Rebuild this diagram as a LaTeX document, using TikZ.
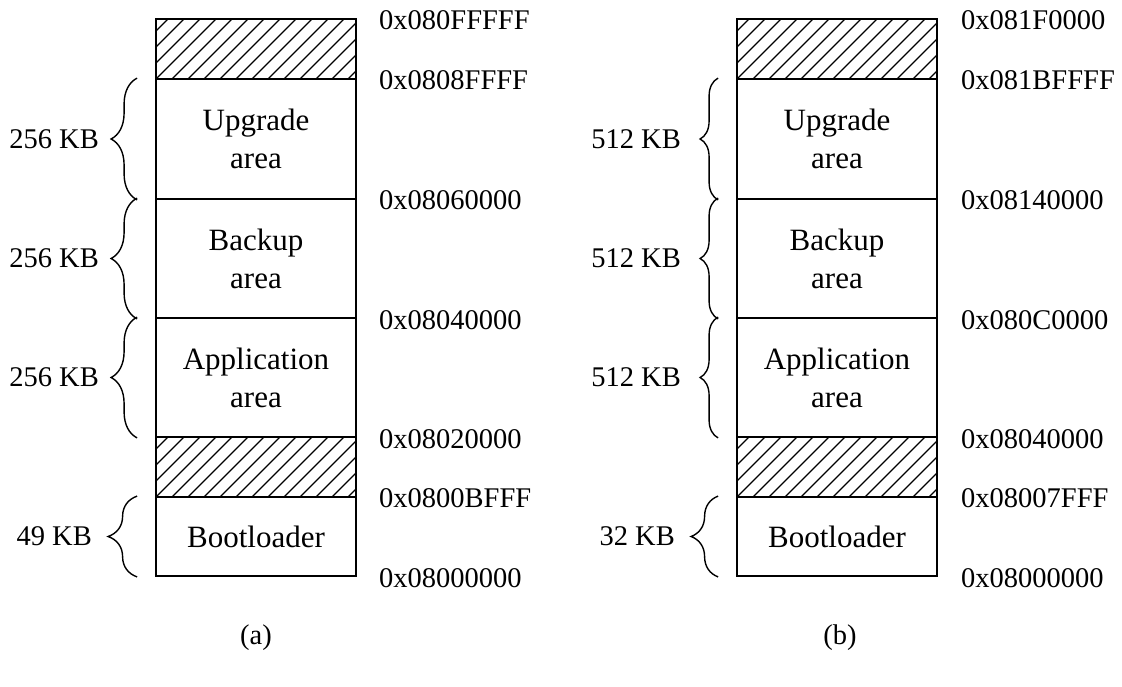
\documentclass[tikz,border=0pt]{standalone}
\usepackage{fontspec}
\setmainfont{Liberation Serif}
\usetikzlibrary{calc,decorations.pathreplacing}

\newcommand{\areafont}{\fontsize{31}{38}\selectfont}
\newcommand{\memfont}{\fontsize{28.5}{34}\selectfont}

\tikzset{
  area/.style={draw, line width=1.8pt, minimum width=200pt, inner sep=0pt,
               align=center, font=\areafont},
  hatched/.style={area, path picture={
      \foreach \k in {-80,-64,...,240}{
        \draw[line width=1.3pt]
          ($(path picture bounding box.south west)+(\k pt,0)$) -- ++(80pt,80pt);
      }}},
  addr/.style={anchor=west, inner sep=0pt, font=\memfont},
  size/.style={anchor=east, inner sep=0pt, font=\memfont},
  membrace/.style={decorate, decoration={brace, amplitude=#1}, line width=1.4pt},
  membrace/.default=26pt,
  panelcap/.style={inner sep=0pt, font=\memfont}
}

\begin{document}
\begin{tikzpicture}[x=1pt, y=-1pt]
  \useasboundingbox (0,0) rectangle (1122,686);

  % ---------- (a) 1 MB flash layout ----------
  \node[hatched, minimum height=60pt]  (aFree1) at (256,49)    {};
  \node[area,    minimum height=120pt] (aUp)    at (256,139)   {Upgrade\\area};
  \node[area,    minimum height=119pt] (aBk)    at (256,258.5) {Backup\\area};
  \node[area,    minimum height=119pt] (aApp)   at (256,377.5) {Application\\area};
  \node[hatched, minimum height=60pt]  (aFree2) at (256,467)   {};
  \node[area,    minimum height=79pt]  (aBoot)  at (256,536.5) {Bootloader};

  \node[addr] (aA0) at (379,20)  {0x080FFFFF};
  \node[addr] (aA1) at (379,80)  {0x0808FFFF};
  \node[addr] (aA2) at (379,200) {0x08060000};
  \node[addr] (aA3) at (379,320) {0x08040000};
  \node[addr] (aA4) at (379,439) {0x08020000};
  \node[addr] (aA5) at (379,498) {0x0800BFFF};
  \node[addr] (aA6) at (379,578) {0x08000000};

  \coordinate (aUpT)   at ($(aUp.north west)+(-18pt,0)$);
  \coordinate (aUpB)   at ($(aUp.south west)+(-18pt,0)$);
  \coordinate (aBkT)   at ($(aBk.north west)+(-18pt,0)$);
  \coordinate (aBkB)   at ($(aBk.south west)+(-18pt,0)$);
  \coordinate (aAppT)  at ($(aApp.north west)+(-18pt,0)$);
  \coordinate (aAppB)  at ($(aApp.south west)+(-18pt,0)$);
  \coordinate (aBootT) at ($(aBoot.north west)+(-18pt,0)$);
  \coordinate (aBootB) at ($(aBoot.south west)+(-18pt,0)$);
  \draw[membrace] (aUpB) -- (aUpT);
  \draw[membrace] (aBkB) -- (aBkT);
  \draw[membrace] (aAppB) -- (aAppT);
  \draw[membrace=29pt] (aBootB) -- (aBootT);

  \node[size] (aS1) at (99,139)   {256 KB};
  \node[size] (aS2) at (99,258.5) {256 KB};
  \node[size] (aS3) at (99,377.5) {256 KB};
  \node[size] (aS4) at (92,536.5) {49 KB};

  \node[panelcap] (capA) at (256,638) {(a)};

  % ---------- (b) 2 MB flash layout ----------
  \node[hatched, minimum height=60pt]  (bFree1) at (837,49)    {};
  \node[area,    minimum height=120pt] (bUp)    at (837,139)   {Upgrade\\area};
  \node[area,    minimum height=119pt] (bBk)    at (837,258.5) {Backup\\area};
  \node[area,    minimum height=119pt] (bApp)   at (837,377.5) {Application\\area};
  \node[hatched, minimum height=60pt]  (bFree2) at (837,467)   {};
  \node[area,    minimum height=79pt]  (bBoot)  at (837,536.5) {Bootloader};

  \node[addr] (bA0) at (961,20)  {0x081F0000};
  \node[addr] (bA1) at (961,80)  {0x081BFFFF};
  \node[addr] (bA2) at (961,200) {0x08140000};
  \node[addr] (bA3) at (961,320) {0x080C0000};
  \node[addr] (bA4) at (961,439) {0x08040000};
  \node[addr] (bA5) at (961,498) {0x08007FFF};
  \node[addr] (bA6) at (961,578) {0x08000000};

  \coordinate (bUpT)   at ($(bUp.north west)+(-18pt,0)$);
  \coordinate (bUpB)   at ($(bUp.south west)+(-18pt,0)$);
  \coordinate (bBkT)   at ($(bBk.north west)+(-18pt,0)$);
  \coordinate (bBkB)   at ($(bBk.south west)+(-18pt,0)$);
  \coordinate (bAppT)  at ($(bApp.north west)+(-18pt,0)$);
  \coordinate (bAppB)  at ($(bApp.south west)+(-18pt,0)$);
  \coordinate (bBootT) at ($(bBoot.north west)+(-18pt,0)$);
  \coordinate (bBootB) at ($(bBoot.south west)+(-18pt,0)$);
  \draw[membrace=18pt] (bUpB) -- (bUpT);
  \draw[membrace=18pt] (bBkB) -- (bBkT);
  \draw[membrace=18pt] (bAppB) -- (bAppT);
  \draw[membrace=27pt] (bBootB) -- (bBootT);

  \node[size] (bS1) at (681,139)   {512 KB};
  \node[size] (bS2) at (681,258.5) {512 KB};
  \node[size] (bS3) at (681,377.5) {512 KB};
  \node[size] (bS4) at (675,536.5) {32 KB};

  \node[panelcap] (capB) at (840,638) {(b)};
\end{tikzpicture}
\end{document}
